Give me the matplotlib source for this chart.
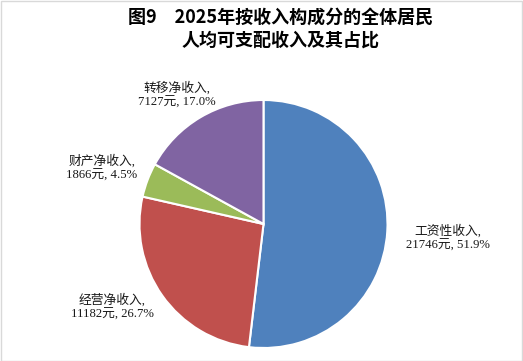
import matplotlib.pyplot as plt
from matplotlib.patches import Rectangle

names = ['工资性收入', '经营净收入', '财产净收入', '转移净收入']
values = [21746, 11182, 1866, 7127]
shares = [51.9, 26.7, 4.5, 17.0]
colors = ['#4F81BD', '#C0504D', '#9BBB59', '#8064A2']

W, H = 523, 361
fig = plt.figure(figsize=(W / 100, H / 100), dpi=100)

# pie centre / radius in pixels
cx, cy, r = 263.5, 224, 124
ax = fig.add_axes([(cx - r) / W, (H - cy - r) / H, 2 * r / W, 2 * r / H])
ax.pie(values, colors=colors, startangle=90, counterclock=False, radius=1,
       wedgeprops={'edgecolor': 'white', 'linewidth': 1.5})
ax.set_xlim(-1, 1)
ax.set_ylim(-1, 1)
ax.set_aspect('equal')
ax.axis('off')

title_font = ['Noto Sans CJK SC', 'DejaVu Sans']
fig.text(281 / W, 1 - 17 / H, '图9　2025年按收入构成分的全体居民', ha='center', va='center',
         fontsize=13, fontweight='bold', family=title_font)
fig.text(281 / W, 1 - 40 / H, '人均可支配收入及其占比', ha='center', va='center',
         fontsize=13, fontweight='bold', family=title_font)

# label centres in pixels, same order as names
label_pos = [(448, 238), (112, 307), (102, 168), (177, 95)]
label_font = ['Liberation Serif', 'Noto Sans CJK SC']
for name, v, s, (px, py) in zip(names, values, shares, label_pos):
    fig.text(px / W, 1 - py / H, f'{name},\n{v}元, {s:.1f}%', ha='center', va='center',
             fontsize=9.2, family=label_font, color='#1a1a1a', linespacing=1.25)

fig.patches.append(Rectangle((0.5 / W, 0.5 / H), 1 - 1.5 / W, 1 - 1.5 / H,
                             transform=fig.transFigure, fill=False,
                             edgecolor='#d9d9d9', linewidth=1))

fig.savefig('out.png', dpi=100)
